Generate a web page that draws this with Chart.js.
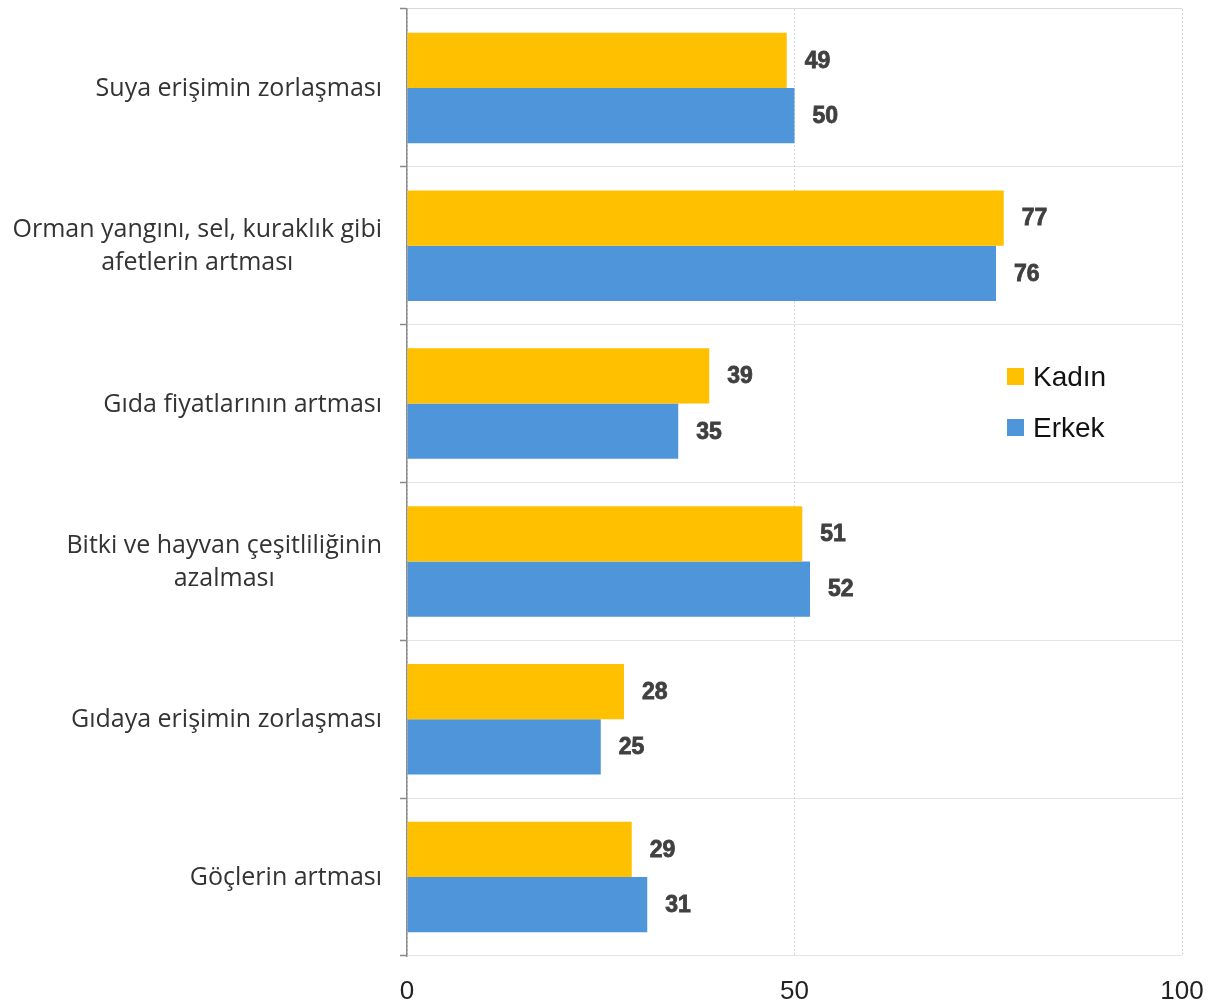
<!DOCTYPE html>
<html>
<head>
<meta charset="utf-8">
<script src="https://cdn.jsdelivr.net/npm/chart.js@4"></script>
<style>
  html, body { margin: 0; padding: 0; background: #fff; }
  #wrap { width: 1225px; height: 1008px; position: relative; }
</style>
</head>
<body>
<div id="wrap"><canvas id="chart"></canvas></div>
<script>
// values
const categories = [
  'Suya erişimin zorlaşması',
  ['Orman yangını, sel, kuraklık gibi', 'afetlerin artması'],
  'Gıda fiyatlarının artması',
  ['Bitki ve hayvan çeşitliliğinin', 'azalması'],
  'Gıdaya erişimin zorlaşması',
  'Göçlerin artması'
];
const kadin = [49, 77, 39, 51, 28, 29];
const erkek = [50, 76, 35, 52, 25, 31];
const seriesNames = ['Kadın', 'Erkek'];
const xTicks = [0, 50, 100];

const labelFont = "'Open Sans', 'Liberation Sans', sans-serif";

// category labels: each block right edge on the axis gap, lines centred in the block
const catLabels = {
  id: 'catLabels',
  afterDraw(chart) {
    const ctx = chart.ctx;
    const y = chart.scales.y;
    ctx.save();
    ctx.font = "25px " + labelFont;
    ctx.fillStyle = '#333';
    ctx.textAlign = 'center';
    ctx.textBaseline = 'middle';
    const lineH = 33;
    chart.data.labels.forEach((lab, i) => {
      const lines = Array.isArray(lab) ? lab : [lab];
      const w = Math.max(...lines.map(l => ctx.measureText(l).width));
      const cx = 382 - w / 2;
      const cy = y.getPixelForTick(i) + 1;
      lines.forEach((l, k) => {
        ctx.fillText(l, cx, cy + (k - (lines.length - 1) / 2) * lineH);
      });
    });
    ctx.restore();
  }
};

// numbers at the end of each bar
const barValues = {
  id: 'barValues',
  afterDatasetsDraw(chart) {
    const ctx = chart.ctx;
    ctx.save();
    ctx.font = "bold 23px 'Liberation Sans', sans-serif";
    ctx.fillStyle = '#404040';
    ctx.strokeStyle = '#404040';
    ctx.lineWidth = 0.8;
    ctx.textBaseline = 'middle';
    chart.data.datasets.forEach((ds, i) => {
      chart.getDatasetMeta(i).data.forEach((bar, j) => {
        ctx.fillText(ds.data[j], bar.x + 18, bar.y + 1);
        ctx.strokeText(ds.data[j], bar.x + 18, bar.y + 1);
      });
    });
    ctx.restore();
  }
};

// legend drawn inside the plot on the right
const sideLegend = {
  id: 'sideLegend',
  afterDraw(chart) {
    const ctx = chart.ctx;
    ctx.save();
    ctx.font = "28px 'Liberation Sans', sans-serif";
    ctx.textBaseline = 'middle';
    const ys = [377, 428];
    chart.data.datasets.forEach((ds, i) => {
      ctx.fillStyle = ds.backgroundColor;
      ctx.fillRect(1007, ys[i] - 9, 17, 17);
      ctx.fillStyle = '#111';
      ctx.fillText(ds.label, 1033, ys[i] + 1);
    });
    ctx.restore();
  }
};

new Chart(document.getElementById('chart'), {
  type: 'bar',
  data: {
    labels: categories,
    datasets: [
      { label: seriesNames[0], data: kadin, backgroundColor: '#FFC000' },
      { label: seriesNames[1], data: erkek, backgroundColor: '#4F95D9' }
    ]
  },
  options: {
    indexAxis: 'y',
    responsive: true,
    maintainAspectRatio: false,
    animation: false,
    layout: { padding: { top: 9, right: 43, left: 0, bottom: 0 } },
    datasets: { bar: { categoryPercentage: 0.7, barPercentage: 1.0 } },
    plugins: {
      legend: { display: false },
      tooltip: { enabled: false }
    },
    scales: {
      x: {
        min: 0,
        max: 100,
        afterBuildTicks(scale) { scale.ticks = xTicks.map(v => ({ value: v })); },
        afterFit(scale) { scale.height = 52; },
        grid: {
          color: '#d4d4d4',
          borderDash: [2, 2],
          drawTicks: false
        },
        border: { display: false, dash: [2, 2] },
        ticks: {
          padding: 20,
          color: '#222',
          font: { family: "'Liberation Sans Narrow', 'Liberation Sans', sans-serif", size: 26 }
        }
      },
      y: {
        afterFit(scale) {
          scale.width = 407;
          scale.paddingTop = 0;
          scale.paddingBottom = 0;
        },
        grid: {
          offset: true,
          color: (c) => c.index === 0 ? '#d9d9d9' : '#e4e4e4',
          borderDash: [2, 2],
          tickLength: 7,
          tickColor: '#888',
          tickBorderDash: [],
          tickWidth: 1.5
        },
        border: { color: '#8c8c8c', width: 1.5 },
        ticks: { display: false }
      }
    }
  },
  plugins: [catLabels, barValues, sideLegend]
});
</script>
</body>
</html>
